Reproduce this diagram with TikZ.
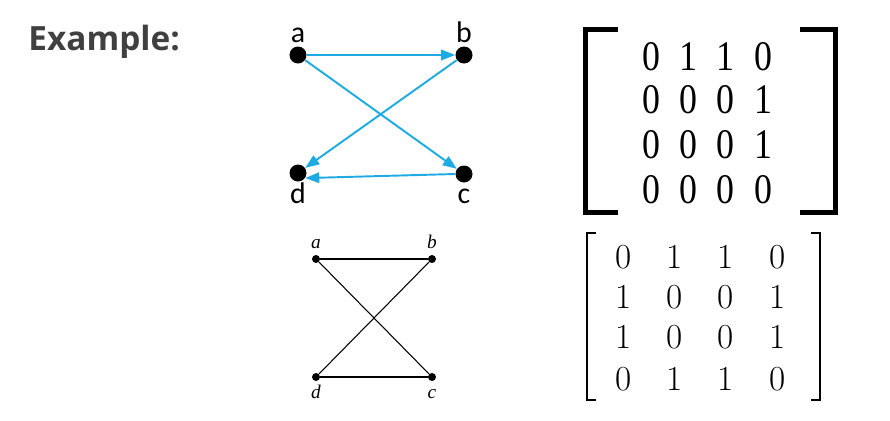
\documentclass[tikz,border=0pt]{standalone}
\usepackage{fontspec}
\usepackage{xcolor}
\usepackage{tikz}
\usetikzlibrary{arrows.meta,calc}
\newfontfamily\headfont{Open Sans}
\newfontfamily\calfont{Carlito}
\newfontfamily\timesfont{Liberation Serif}
\newcommand\colgap{\hspace{13pt}}
\definecolor{edgeblue}{RGB}{30,170,226}
\definecolor{headgray}{RGB}{64,64,64}

\begin{document}
\begin{tikzpicture}[x=0.02cm, y=-0.02cm,
  every node/.style={inner sep=0pt},
  vtx/.style={circle, fill=black, minimum size=0.34cm},
  smalldot/.style={circle, fill=black, minimum size=0.16cm},
  lblA/.style={font=\calfont\fontsize{17}{20}\selectfont, anchor=base},
  lblB/.style={font=\timesfont\itshape\fontsize{11}{13}\selectfont, anchor=base},
  rowA/.style={font=\timesfont\fontsize{24}{28}\selectfont, anchor=base west,
               xscale=0.85, transform shape},
  rowB/.style={font=\fontsize{20}{24}\selectfont, anchor=base west},
  arrow/.style={-{Triangle[length=8pt,width=6pt]}, line width=1.1pt, edgeblue},
  plain/.style={line width=0.6pt},
  brkA/.style={line width=2.8pt},
  brkB/.style={line width=0.8pt},
]
\useasboundingbox (0,0) rectangle (890,420);

%% ── Heading ──────────────────────────────────────────────────────────────────
\node[font=\headfont\bfseries\fontsize{19}{23}\selectfont, text=headgray,
      anchor=base west] (title) at (28,50) {Example:};

%% ── Directed graph (top) ─────────────────────────────────────────────────────
\node[vtx] (a) at (298,55)  {};
\node[vtx] (b) at (464,55)  {};
\node[vtx] (d) at (298,173) {};
\node[vtx] (c) at (464,174) {};
\node[lblA] (la) at (298,42)  {a};
\node[lblA] (lb) at (464,42)  {b};
\node[lblA] (ld) at (298,203) {d};
\node[lblA] (lc) at (464,203) {c};

\draw[arrow] (a) -- (b);
\draw[arrow] (a) -- (c);
\draw[arrow] (b) -- (d);
\draw[arrow] (c.west) -- (d.-35);

%% ── Adjacency matrix, directed ───────────────────────────────────────────────
\draw[brkA] (618,29.5) -- (585.5,29.5) -- (585.5,212.5) -- (618,212.5);
\draw[brkA] (800,29.5) -- (835.5,29.5) -- (835.5,212.5) -- (800,212.5);
\node[rowA] (r1) at (642,70)  {0\colgap1\colgap1\colgap0};
\node[rowA] (r2) at (642,113) {0\colgap0\colgap0\colgap1};
\node[rowA] (r3) at (642,158) {0\colgap0\colgap0\colgap1};
\node[rowA] (r4) at (642,203) {0\colgap0\colgap0\colgap0};

%% ── Undirected graph (bottom) ────────────────────────────────────────────────
\node[smalldot] (ua) at (316,259) {};
\node[smalldot] (ub) at (432,259) {};
\node[smalldot] (ud) at (316,377) {};
\node[smalldot] (uc) at (432,377) {};
\node[lblB] (ula) at (316,248) {a};
\node[lblB] (ulb) at (432,248) {b};
\node[lblB] (uld) at (316,398) {d};
\node[lblB] (ulc) at (432,398) {c};

\draw[plain] (ua) -- (ub);
\draw[plain] (ua) -- (uc);
\draw[plain] (ub) -- (ud);
\draw[plain] (ud) -- (uc);

%% ── Adjacency matrix, undirected ─────────────────────────────────────────────
\draw[brkB] (596,233) -- (587,233) -- (587,400) -- (596,400);
\draw[brkB] (811,233) -- (820,233) -- (820,400) -- (811,400);
\node[rowB] (s1) at (615,268) {0\quad 1\quad 1\quad 0};
\node[rowB] (s2) at (615,308) {1\quad 0\quad 0\quad 1};
\node[rowB] (s3) at (615,348) {1\quad 0\quad 0\quad 1};
\node[rowB] (s4) at (615,390) {0\quad 1\quad 1\quad 0};

\end{tikzpicture}
\end{document}
